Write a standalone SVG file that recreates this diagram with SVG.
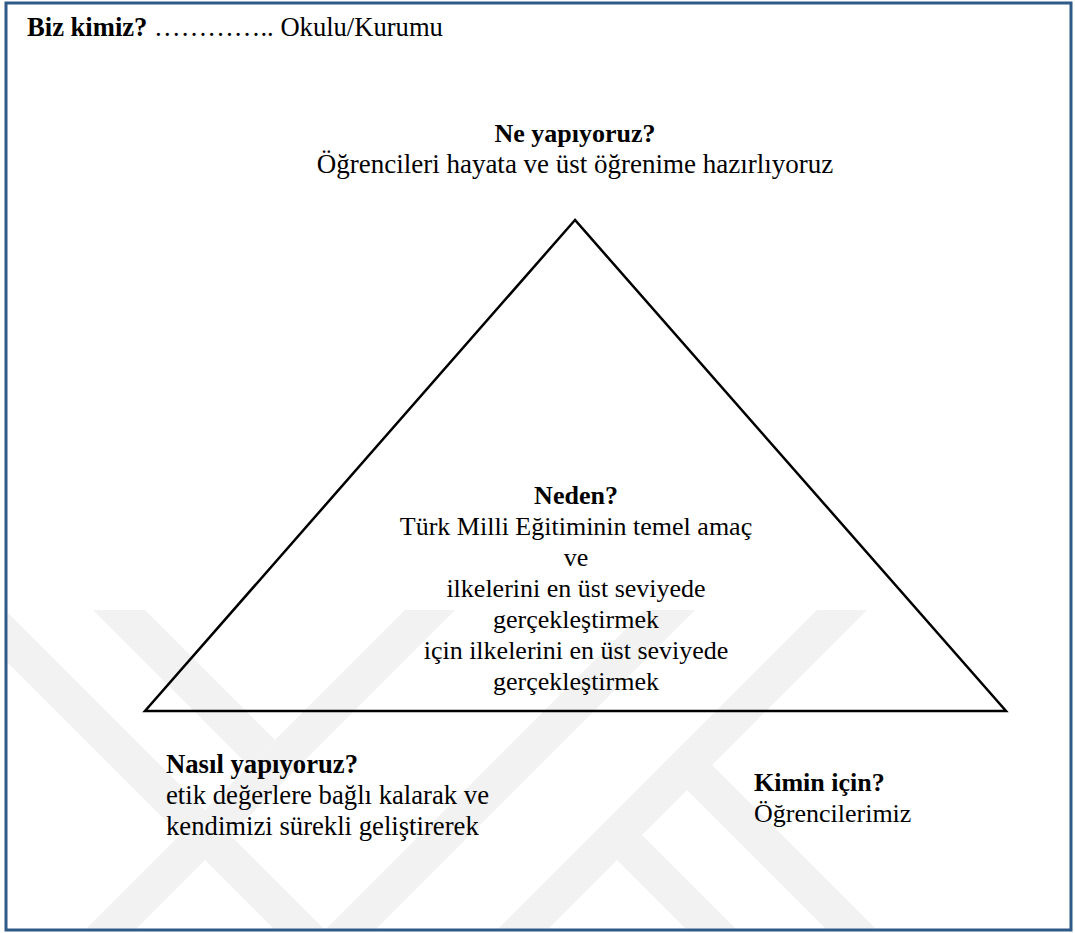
<svg xmlns="http://www.w3.org/2000/svg" width="1075" height="933" viewBox="0 0 1075 933">
<style>
.t{font-family:'Liberation Serif','Times New Roman','DejaVu Serif',serif;font-size:26px;fill:#000}
.b{font-weight:bold}
.c{text-anchor:middle}
.wm{fill:#f2f2f2}
</style>
<defs>
<clipPath id="inner"><rect x="7.5" y="4.5" width="1062" height="924"/></clipPath>
</defs>
<rect x="0" y="0" width="1075" height="933" fill="#ffffff"/>
<g id="watermark" clip-path="url(#inner)">
<polygon class="wm" points="-45,610 5,610 325,930 275,930"/>
<polygon class="wm" points="93,610 145,610 275,740 249,766"/>
<polygon class="wm" points="405,610 455,610 135,930 85,930"/>
<polygon class="wm" points="645,610 695,610 375,930 325,930"/>
<polygon class="wm" points="817,610 867,610 547,930 497,930"/>
<polygon class="wm" points="687,740 877,930 827,930 662,765"/>
<polygon class="wm" points="642,835 737,930 687,930 617,860"/>
</g>
<rect id="frame" x="6" y="3" width="1065" height="927" fill="none" stroke="#2f5a88" stroke-width="3"/>
<g id="connectors"><polygon points="575,220 145,711 1006,711" fill="none" stroke="#000" stroke-width="2.5"/></g>
<g font-family="Liberation Serif, serif">
<g id="header"><text class="t" x="27" y="36" style="font-size:26.6px"><tspan class="b">Biz kimiz?</tspan> ………….. Okulu/Kurumu</text></g>
<g id="ne-yapiyoruz">
<text class="t b c" x="575" y="142">Ne yapıyoruz?</text>
<text class="t c" x="575" y="173" style="font-size:27px">Öğrencileri hayata ve üst öğrenime hazırlıyoruz</text>
</g>
<g id="neden">
<text class="t b c" x="576" y="504">Neden?</text>
<text class="t c" x="576" y="535">Türk Milli Eğitiminin temel amaç</text>
<text class="t c" x="576" y="566">ve</text>
<text class="t c" x="576" y="597">ilkelerini en üst seviyede</text>
<text class="t c" x="576" y="628">gerçekleştirmek</text>
<text class="t c" x="576" y="659">için ilkelerini en üst seviyede</text>
<text class="t c" x="576" y="690">gerçekleştirmek</text>
</g>
<g id="nasil" style="font-size:26.7px">
<text class="t b" x="166" y="773" style="font-size:26.7px">Nasıl yapıyoruz?</text>
<text class="t" x="166" y="804" style="font-size:26.7px">etik değerlere bağlı kalarak ve</text>
<text class="t" x="166" y="835" style="font-size:26.7px">kendimizi sürekli geliştirerek</text>
</g>
<g id="kimin">
<text class="t b" x="754" y="791">Kimin için?</text>
<text class="t" x="754" y="822">Öğrencilerimiz</text>
</g>
</g>
</svg>
